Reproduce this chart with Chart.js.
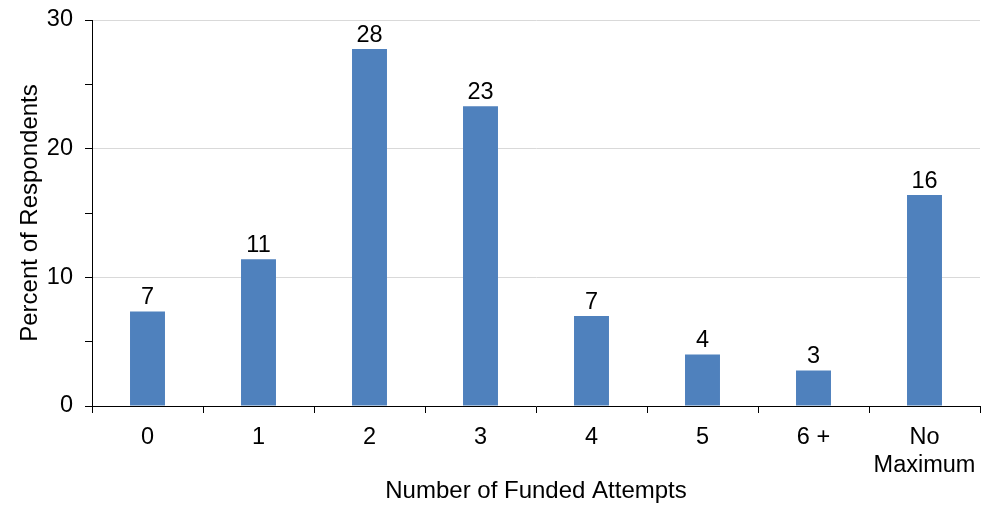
<!DOCTYPE html>
<html>
<head>
<meta charset="utf-8">
<script src="https://cdn.jsdelivr.net/npm/chart.js@4/dist/chart.umd.min.js"></script>
<style>
  html, body { margin: 0; padding: 0; background: #fff; }
  #wrap { width: 987px; height: 506px; }
</style>
</head>
<body>
<div id="wrap"><canvas id="chart" width="987" height="506"></canvas></div>
<script>
var categories = ['0', '1', '2', '3', '4', '5', '6 +', ['No', 'Maximum']];
var percents = [7.35, 11.4, 27.75, 23.3, 7.0, 4.0, 2.75, 16.4];
var yTicks = [0, 10, 20, 30];

var barColor = '#4F81BD';
var fontFamily = '"Liberation Sans", Arial, sans-serif';
var labelSize = 23.5;
var titleSize = 24;

// numbers above the bars
var valueLabels = {
    id: 'valueLabels',
    afterDatasetsDraw: function(chart) {
        var ctx = chart.ctx;
        var meta = chart.getDatasetMeta(0);
        ctx.save();
        ctx.fillStyle = '#000';
        ctx.font = labelSize + 'px ' + fontFamily;
        ctx.textAlign = 'center';
        ctx.textBaseline = 'bottom';
        meta.data.forEach(function(bar, i) {
            ctx.fillText(Math.round(percents[i]), bar.x, bar.y - 2);
        });
        ctx.restore();
    }
};

var chart = new Chart(document.getElementById('chart').getContext('2d'), {
    type: 'bar',
    data: {
        labels: categories,
        datasets: [{
            data: percents,
            backgroundColor: barColor,
            categoryPercentage: 1,
            barPercentage: 0.315
        }]
    },
    options: {
        responsive: false,
        animation: false,
        layout: { padding: { left: 0, right: 7, top: 20, bottom: 0 } },
        plugins: {
            legend: { display: false },
            tooltip: { enabled: false }
        },
        scales: {
            x: {
                offset: true,
                border: { color: '#000', width: 1 },
                grid: {
                    offset: true,
                    drawOnChartArea: false,
                    drawTicks: true,
                    tickLength: 7,
                    tickColor: '#000'
                },
                ticks: {
                    color: '#000',
                    font: { size: labelSize, family: fontFamily },
                    padding: 10,
                    maxRotation: 0,
                    autoSkip: false
                },
                title: {
                    display: true,
                    text: 'Number of Funded Attempts',
                    color: '#000',
                    font: { size: titleSize, family: fontFamily },
                    padding: { top: 4, bottom: 0 }
                },
                afterFit: function(scale) { scale.height = 100; }
            },
            y: {
                min: 0,
                max: 30,
                border: { color: '#000', width: 1 },
                grid: {
                    color: function(c) {
                        var v = c.tick ? c.tick.value : 0;
                        return (v > 0 && yTicks.indexOf(v) >= 0) ? '#d9d9d9' : 'rgba(0,0,0,0)';
                    },
                    tickColor: '#000',
                    tickLength: 7,
                    lineWidth: 1
                },
                ticks: {
                    stepSize: 5,
                    color: '#000',
                    font: { size: labelSize, family: fontFamily },
                    padding: 12,
                    callback: function(v) { return yTicks.indexOf(v) >= 0 ? v : ''; }
                },
                title: {
                    display: true,
                    text: 'Percent of Respondents',
                    color: '#000',
                    font: { size: titleSize, family: fontFamily },
                    padding: { top: 16, bottom: 0 }
                },
                afterFit: function(scale) {
                    scale.width = 92;
                    scale.paddingTop = 0;
                    scale.paddingBottom = 0;
                }
            }
        }
    },
    plugins: [valueLabels]
});
</script>
</body>
</html>
